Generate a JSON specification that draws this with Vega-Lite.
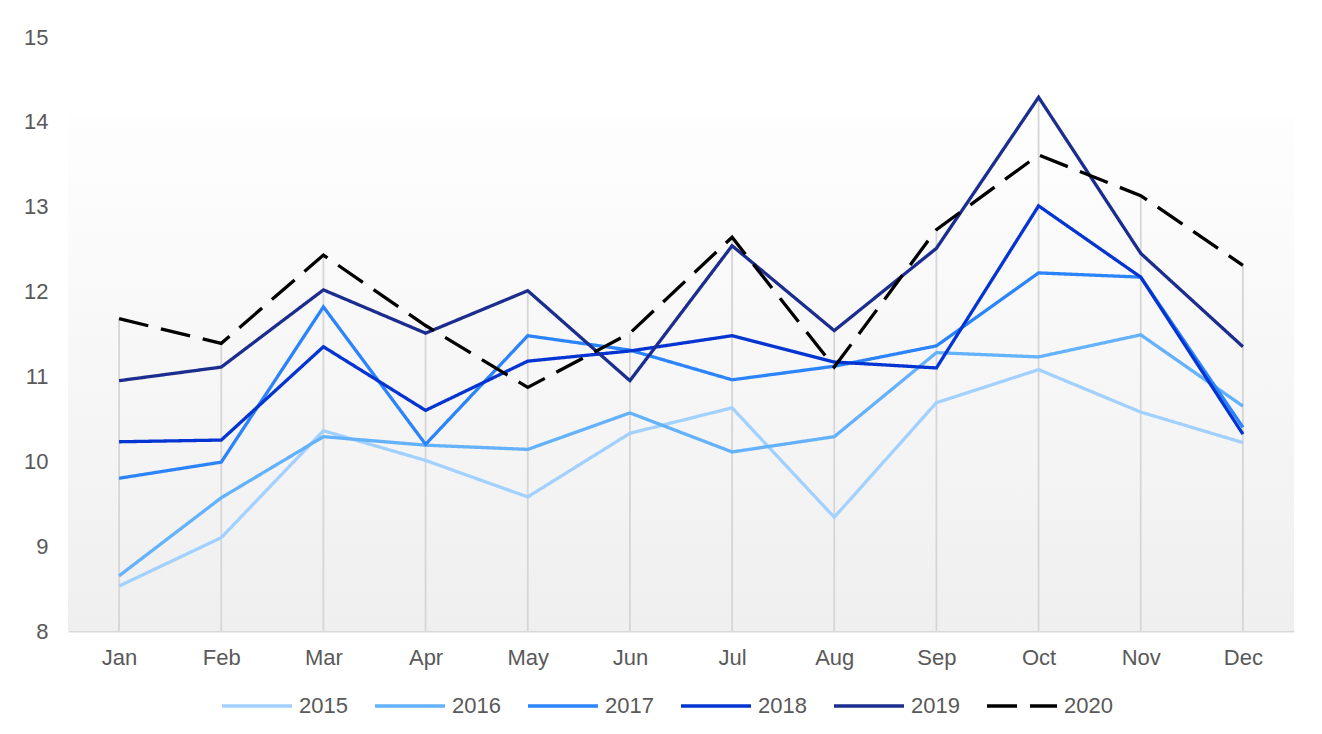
{
  "$schema": "https://vega.github.io/schema/vega-lite/v6.json",
  "width": 1226,
  "height": 594,
  "autosize": {"type": "none"},
  "padding": {"left": 68, "top": 37, "right": 28, "bottom": 103},
  "background": "#ffffff",
  "config": {
    "view": {"stroke": null},
    "font": "Liberation Sans",
    "axis": {"labelFont": "Liberation Sans", "labelFontSize": 22, "labelColor": "#595959", "ticks": false, "grid": false, "title": null},
    "legend": {"labelFont": "Liberation Sans"}
  },
  "data": {
    "values": [
      {"month": "Jan", "year": "2015", "value": 8.53},
      {"month": "Feb", "year": "2015", "value": 9.10},
      {"month": "Mar", "year": "2015", "value": 10.36},
      {"month": "Apr", "year": "2015", "value": 10.01},
      {"month": "May", "year": "2015", "value": 9.58},
      {"month": "Jun", "year": "2015", "value": 10.33},
      {"month": "Jul", "year": "2015", "value": 10.63},
      {"month": "Aug", "year": "2015", "value": 9.34},
      {"month": "Sep", "year": "2015", "value": 10.69},
      {"month": "Oct", "year": "2015", "value": 11.08},
      {"month": "Nov", "year": "2015", "value": 10.58},
      {"month": "Dec", "year": "2015", "value": 10.22},
      {"month": "Jan", "year": "2016", "value": 8.65},
      {"month": "Feb", "year": "2016", "value": 9.57},
      {"month": "Mar", "year": "2016", "value": 10.29},
      {"month": "Apr", "year": "2016", "value": 10.19},
      {"month": "May", "year": "2016", "value": 10.14},
      {"month": "Jun", "year": "2016", "value": 10.57},
      {"month": "Jul", "year": "2016", "value": 10.11},
      {"month": "Aug", "year": "2016", "value": 10.29},
      {"month": "Sep", "year": "2016", "value": 11.28},
      {"month": "Oct", "year": "2016", "value": 11.23},
      {"month": "Nov", "year": "2016", "value": 11.49},
      {"month": "Dec", "year": "2016", "value": 10.65},
      {"month": "Jan", "year": "2017", "value": 9.80},
      {"month": "Feb", "year": "2017", "value": 9.99},
      {"month": "Mar", "year": "2017", "value": 11.82},
      {"month": "Apr", "year": "2017", "value": 10.20},
      {"month": "May", "year": "2017", "value": 11.48},
      {"month": "Jun", "year": "2017", "value": 11.31},
      {"month": "Jul", "year": "2017", "value": 10.96},
      {"month": "Aug", "year": "2017", "value": 11.12},
      {"month": "Sep", "year": "2017", "value": 11.36},
      {"month": "Oct", "year": "2017", "value": 12.22},
      {"month": "Nov", "year": "2017", "value": 12.17},
      {"month": "Dec", "year": "2017", "value": 10.40},
      {"month": "Jan", "year": "2018", "value": 10.23},
      {"month": "Feb", "year": "2018", "value": 10.25},
      {"month": "Mar", "year": "2018", "value": 11.35},
      {"month": "Apr", "year": "2018", "value": 10.60},
      {"month": "May", "year": "2018", "value": 11.18},
      {"month": "Jun", "year": "2018", "value": 11.30},
      {"month": "Jul", "year": "2018", "value": 11.48},
      {"month": "Aug", "year": "2018", "value": 11.17},
      {"month": "Sep", "year": "2018", "value": 11.10},
      {"month": "Oct", "year": "2018", "value": 13.01},
      {"month": "Nov", "year": "2018", "value": 12.17},
      {"month": "Dec", "year": "2018", "value": 10.32},
      {"month": "Jan", "year": "2019", "value": 10.95},
      {"month": "Feb", "year": "2019", "value": 11.11},
      {"month": "Mar", "year": "2019", "value": 12.02},
      {"month": "Apr", "year": "2019", "value": 11.51},
      {"month": "May", "year": "2019", "value": 12.01},
      {"month": "Jun", "year": "2019", "value": 10.95},
      {"month": "Jul", "year": "2019", "value": 12.54},
      {"month": "Aug", "year": "2019", "value": 11.54},
      {"month": "Sep", "year": "2019", "value": 12.51},
      {"month": "Oct", "year": "2019", "value": 14.29},
      {"month": "Nov", "year": "2019", "value": 12.45},
      {"month": "Dec", "year": "2019", "value": 11.35},
      {"month": "Jan", "year": "2020", "value": 11.68},
      {"month": "Feb", "year": "2020", "value": 11.39},
      {"month": "Mar", "year": "2020", "value": 12.43},
      {"month": "Apr", "year": "2020", "value": 11.60},
      {"month": "May", "year": "2020", "value": 10.87},
      {"month": "Jun", "year": "2020", "value": 11.51},
      {"month": "Jul", "year": "2020", "value": 12.64},
      {"month": "Aug", "year": "2020", "value": 11.11},
      {"month": "Sep", "year": "2020", "value": 12.73},
      {"month": "Oct", "year": "2020", "value": 13.61},
      {"month": "Nov", "year": "2020", "value": 13.13},
      {"month": "Dec", "year": "2020", "value": 12.31}
    ]
  },
  "layer": [
    {
      "transform": [{"aggregate": [{"op": "count", "as": "n"}]}],
      "mark": {
        "type": "rect",
        "fill": {"gradient": "linear", "x1": 0, "y1": 0, "x2": 0, "y2": 1,
          "stops": [{"offset": 0, "color": "#fefefe"}, {"offset": 1, "color": "#efefef"}]}
      },
      "encoding": {
        "x": {"value": 0},
        "x2": {"value": "width"},
        "y": {"datum": 14.08, "type": "quantitative", "scale": {"domain": [8, 15], "nice": false, "zero": false}},
        "y2": {"datum": 8}
      }
    },
    {
      "mark": {"type": "rule", "color": "#d6d6d6", "strokeWidth": 1.8},
      "encoding": {
        "x": {"field": "month", "type": "ordinal", "scale": {"type": "point", "padding": 0.5, "domain": ["Jan","Feb","Mar","Apr","May","Jun","Jul","Aug","Sep","Oct","Nov","Dec"]}},
        "y": {"aggregate": "max", "field": "value", "type": "quantitative"},
        "y2": {"datum": 8}
      }
    },
    {
      "mark": {"type": "line", "strokeWidth": 3.3, "strokeCap": "butt", "strokeJoin": "miter"},
      "encoding": {
        "x": {"field": "month", "type": "ordinal",
          "scale": {"type": "point", "padding": 0.5, "domain": ["Jan","Feb","Mar","Apr","May","Jun","Jul","Aug","Sep","Oct","Nov","Dec"]},
          "axis": {"labelAngle": 0, "labelAlign": "center", "labelBaseline": "top", "domain": true, "domainColor": "#d9d9d9", "domainWidth": 1.8, "labelPadding": 16}},
        "y": {"field": "value", "type": "quantitative",
          "scale": {"domain": [8, 15], "nice": false, "zero": false},
          "axis": {"values": [8,9,10,11,12,13,14,15], "format": "d", "domain": false, "labelPadding": 20}},
        "color": {"field": "year", "type": "nominal",
          "scale": {"domain": ["2015","2016","2017","2018","2019","2020"], "range": ["#a3d1ff","#64b1fc","#2c84fa","#0434d1","#1b2d8e","#000000"]},
          "legend": {"orient": "none", "legendX": 152, "legendY": 632, "direction": "horizontal", "columns": 6, "title": null,
            "symbolType": "stroke", "symbolSize": 4900, "symbolStrokeWidth": 3.3, "labelFontSize": 22, "labelColor": "#595959",
            "columnPadding": 20, "labelOffset": 5, "padding": 0}},
        "strokeDash": {"field": "year", "type": "nominal",
          "scale": {"domain": ["2015","2016","2017","2018","2019","2020"], "range": [[1,0],[1,0],[1,0],[1,0],[1,0],[30,13]]},
          "legend": {"orient": "none", "legendX": 152, "legendY": 632, "direction": "horizontal", "columns": 6, "title": null,
            "symbolType": "stroke", "symbolSize": 4900, "symbolStrokeWidth": 3.3, "labelFontSize": 22, "labelColor": "#595959",
            "columnPadding": 20, "labelOffset": 5, "padding": 0}}
      }
    }
  ]
}
